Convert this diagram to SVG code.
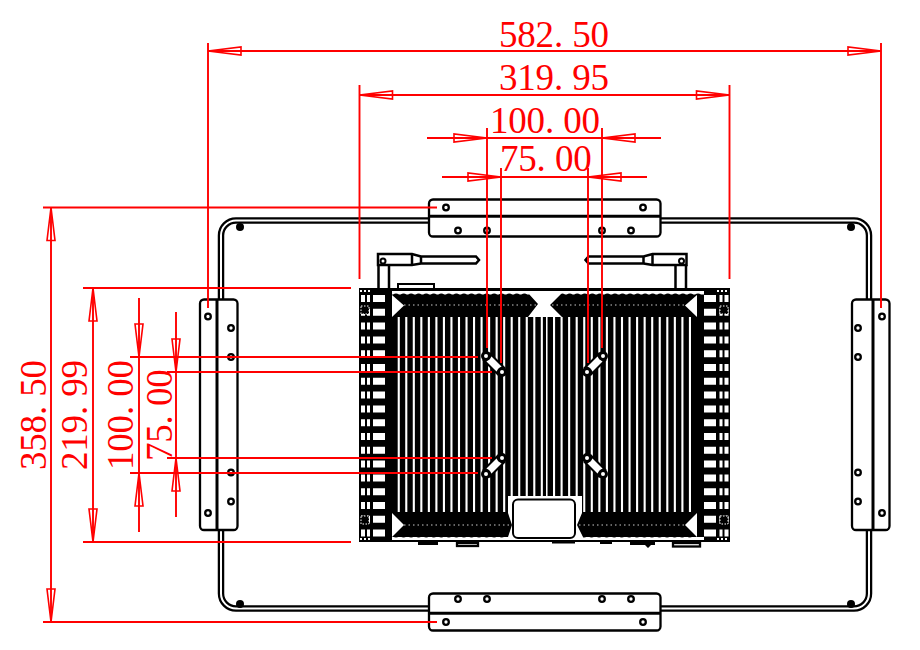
<svg xmlns="http://www.w3.org/2000/svg" width="920" height="650" viewBox="0 0 920 650">
<style>
.k{fill:#fff;stroke:#000;stroke-width:2.500}
.br{fill:#fff;stroke:#000;stroke-width:2.300}
.bl{fill:none;stroke:#000;stroke-width:3}
.h{fill:#fff;stroke:#000;stroke-width:2.300}
.r{fill:none;stroke:#f00;stroke-width:1.900}
.a{fill:none;stroke:#f00;stroke-width:1.600}
.t{fill:#f00;font-family:"Liberation Serif","Times New Roman",serif;font-size:37px}
.fin{fill:none;stroke:#fff;stroke-width:195}
.win{fill:none;stroke:#fff}
</style>
<defs>
<polygon id="ah" class="a" points="0,0 -33,-4 -33,4"/>
<g id="mount"><line x1="-8" y1="-8" x2="8" y2="8" stroke="#000" stroke-width="11"/><line x1="-5" y1="-5" x2="5" y2="5" stroke="#fff" stroke-width="7"/><circle cx="-8" cy="-8" r="3.500" fill="#fff" stroke="#000" stroke-width="3"/><circle cx="8" cy="8" r="3.500" fill="#fff" stroke="#000" stroke-width="3"/></g>
<g id="ant">
<path class="k" d="M378 264V254H412L421 256.500H476L479 260L476 263.500H421L412 265H378Z"/>
<path class="k" d="M412 254V264M421 256.500V263.500M378.500 265V288M389 265V288"/>
<circle cx="383" cy="261" r="2.500" fill="#fff" stroke="#000" stroke-width="2"/>
</g>
</defs>
<rect width="920" height="650" fill="#fff"/>

<g id="frame">
<rect x="221" y="220.500" width="648" height="388" rx="15" fill="#fff" stroke="#000" stroke-width="6.500"/>
<rect x="221" y="220.500" width="648" height="388" rx="15" fill="none" stroke="#fff" stroke-width="2"/>
<circle cx="240" cy="227" r="4"/><circle cx="851" cy="227" r="4"/><circle cx="240" cy="604" r="4"/><circle cx="851" cy="604" r="4"/>
</g>

<g id="antenna-left"><use href="#ant"/></g>
<g id="antenna-right"><use href="#ant" transform="translate(1064.500 0) scale(-1 1)"/></g>

<g id="heatsink">
<rect x="398" y="284" width="36" height="5" fill="#fff" stroke="#000" stroke-width="2"/>
<rect x="359" y="288" width="371" height="254"/>
<rect x="392" y="291" width="312" height="3.500" fill="#fff"/>
<rect x="392" y="537" width="312" height="3" fill="#fff"/>
<line x1="396" y1="297" x2="700" y2="297" stroke="#000" stroke-width="7" stroke-linecap="round" stroke-dasharray="0 7.550"/>
<line x1="396" y1="534" x2="508" y2="534" stroke="#000" stroke-width="7" stroke-linecap="round" stroke-dasharray="0 7.550"/>
<line x1="584" y1="534" x2="697" y2="534" stroke="#000" stroke-width="7" stroke-linecap="round" stroke-dasharray="0 7.550"/>
<line class="fin" x1="397.700" y1="414.500" x2="545" y2="414.500" stroke-dasharray="2.100 5.430"/>
<line class="fin" x1="691" y1="414.500" x2="546" y2="414.500" stroke-dasharray="2.100 5.450"/>
<polygon fill="#fff" points="528,293 562,293 550,305 562,317 528,317 538,304"/>
<polygon fill="#fff" points="392,295 404,305.500 392,317"/>
<polygon fill="#fff" points="697,295 685,305.500 697,317"/>
<polygon fill="#fff" points="392,513 404,525 392,537"/>
<polygon fill="#fff" points="697,513 685,525 697,537"/>
<polygon fill="#fff" points="508,496 582,496 582,513 577,525 583,537 583,540 508,540 508,537 512,525 508,513"/>
<rect x="513" y="499.500" width="62" height="38.500" rx="5" fill="#fff" stroke="#000" stroke-width="2"/>
<line x1="404" y1="305" x2="536" y2="305" stroke="#fff" stroke-width="0.800" stroke-dasharray="1.500 3"/>
<line x1="552" y1="305" x2="685" y2="305" stroke="#fff" stroke-width="0.800" stroke-dasharray="1.500 3"/>
<line x1="404" y1="525" x2="510" y2="525" stroke="#fff" stroke-width="0.800" stroke-dasharray="1.500 3"/>
<line x1="579" y1="525" x2="685" y2="525" stroke="#fff" stroke-width="0.800" stroke-dasharray="1.500 3"/>
<g class="win">
<line x1="379" y1="295" x2="379" y2="537" stroke-width="12" stroke-dasharray="7 6.800"/>
<line x1="363" y1="295" x2="363" y2="537" stroke-width="4" stroke-dasharray="7 6.800"/>
<line x1="368.500" y1="295" x2="368.500" y2="537" stroke-width="3" stroke-dasharray="7 6.800"/>
<line x1="710" y1="295" x2="710" y2="537" stroke-width="12" stroke-dasharray="7 6.800"/>
<line x1="726.500" y1="295" x2="726.500" y2="537" stroke-width="4" stroke-dasharray="7 6.800"/>
<line x1="721" y1="295" x2="721" y2="537" stroke-width="3" stroke-dasharray="7 6.800"/>
<line x1="360" y1="291" x2="372" y2="291" stroke-width="2" stroke-dasharray="2 2"/>
<line x1="717" y1="291" x2="729" y2="291" stroke-width="2" stroke-dasharray="2 2"/>
<line x1="360" y1="539" x2="372" y2="539" stroke-width="2" stroke-dasharray="2 2"/>
<line x1="717" y1="539" x2="729" y2="539" stroke-width="2" stroke-dasharray="2 2"/>
</g>
<rect x="361" y="306" width="8" height="8" stroke="#fff" stroke-dasharray="1.500 1.500"/>
<rect x="720" y="306" width="8" height="8" stroke="#fff" stroke-dasharray="1.500 1.500"/>
<rect x="361" y="516" width="8" height="8" stroke="#fff" stroke-dasharray="1.500 1.500"/>
<rect x="720" y="516" width="8" height="8" stroke="#fff" stroke-dasharray="1.500 1.500"/>
<use href="#mount" transform="translate(494 364)"/>
<use href="#mount" transform="translate(595 364) rotate(90)"/>
<use href="#mount" transform="translate(494 466) rotate(90)"/>
<use href="#mount" transform="translate(595 466)"/>
<rect x="418" y="542" width="20" height="3"/>
<rect x="457" y="543" width="21" height="3" class="br"/>
<rect x="552" y="542" width="23" height="1.500"/>
<rect x="600" y="542" width="12" height="2"/>
<path d="M630 542H655V545H651L648 548L645 545H630Z"/>
<rect x="673" y="543" width="27" height="3.500" class="br"/>
</g>

<g id="bracket-top">
<rect class="br" x="429" y="199.500" width="231.500" height="37" rx="4"/>
<line class="bl" x1="429" y1="216.300" x2="660.500" y2="216.300"/>
<circle class="h" cx="446" cy="207.500" r="2.800"/><circle class="h" cx="643" cy="207.500" r="2.800"/>
<circle class="h" cx="458" cy="230.500" r="2.800"/><circle class="h" cx="487" cy="230.500" r="2.800"/><circle class="h" cx="602" cy="230.500" r="2.800"/><circle class="h" cx="631" cy="230.500" r="2.800"/>
</g>
<g id="bracket-bottom">
<rect class="br" x="429" y="593.500" width="231.500" height="37" rx="4"/>
<line class="bl" x1="429" y1="613.300" x2="660.500" y2="613.300"/>
<circle class="h" cx="458" cy="599" r="2.800"/><circle class="h" cx="487" cy="599" r="2.800"/><circle class="h" cx="602" cy="599" r="2.800"/><circle class="h" cx="631" cy="599" r="2.800"/>
<circle class="h" cx="446" cy="622" r="2.800"/><circle class="h" cx="643" cy="622" r="2.800"/>
</g>
<g id="bracket-left">
<rect class="br" x="200" y="299.500" width="37.500" height="230.500" rx="4"/>
<line class="bl" x1="217" y1="299.500" x2="217" y2="530"/>
<circle class="h" cx="208" cy="316.500" r="2.800"/><circle class="h" cx="208" cy="513" r="2.800"/>
<circle class="h" cx="231" cy="328" r="2.800"/><circle class="h" cx="231" cy="357" r="2.800"/><circle class="h" cx="231" cy="472.500" r="2.800"/><circle class="h" cx="231" cy="501.500" r="2.800"/>
</g>
<g id="bracket-right">
<rect class="br" x="852" y="299.500" width="37.500" height="230.500" rx="4"/>
<line class="bl" x1="873" y1="299.500" x2="873" y2="530"/>
<circle class="h" cx="882" cy="316.500" r="2.800"/><circle class="h" cx="882" cy="513" r="2.800"/>
<circle class="h" cx="858" cy="328" r="2.800"/><circle class="h" cx="858" cy="357" r="2.800"/><circle class="h" cx="858" cy="472.500" r="2.800"/><circle class="h" cx="858" cy="501.500" r="2.800"/>
</g>

<g id="connectors">
<path class="r" d="M208 43V308M881 43V308M208 51H881"/>
<path class="r" d="M359.500 85V279M729.500 85V279M359.500 95H729.500"/>
<path class="r" d="M427 138H661M487 128V348M602 128V348"/>
<path class="r" d="M442 177H647M501 168V363M588 168V363"/>
<path class="r" d="M43 207.500H437M43 622H437M51 207.500V622"/>
<path class="r" d="M83 288H351M83 542H351M93 288V542"/>
<path class="r" d="M130 357H478M130 473H478M139 298V532"/>
<path class="r" d="M167 372H492M167 458H492M176 312V517"/>
<use href="#ah" transform="translate(208 51) rotate(180)"/>
<use href="#ah" transform="translate(881 51)"/>
<use href="#ah" transform="translate(359.500 95) rotate(180)"/>
<use href="#ah" transform="translate(729.500 95)"/>
<use href="#ah" transform="translate(487 138)"/>
<use href="#ah" transform="translate(602 138) rotate(180)"/>
<use href="#ah" transform="translate(501 177)"/>
<use href="#ah" transform="translate(588 177) rotate(180)"/>
<use href="#ah" transform="translate(51 207.500) rotate(-90)"/>
<use href="#ah" transform="translate(51 622) rotate(90)"/>
<use href="#ah" transform="translate(93 288) rotate(-90)"/>
<use href="#ah" transform="translate(93 542) rotate(90)"/>
<use href="#ah" transform="translate(139 357) rotate(90)"/>
<use href="#ah" transform="translate(139 473) rotate(-90)"/>
<use href="#ah" transform="translate(176 372) rotate(90)"/>
<use href="#ah" transform="translate(176 458) rotate(-90)"/>
</g>

<g id="labels">
<text class="t" x="499 517.300 535.600 553.900 572.200 590.500" y="47">582.50</text>
<text class="t" x="499 517.300 535.600 553.900 572.200 590.500" y="90">319.95</text>
<text class="t" x="490 508.300 526.600 544.900 563.200 581.500" y="133">100.00</text>
<text class="t" x="500 518.300 536.600 554.900 573.200" y="171">75.00</text>
<text class="t" transform="translate(46 470) rotate(-90)" x="0 18.300 36.600 54.900 73.200 91.500" y="0">358.50</text>
<text class="t" transform="translate(87 470) rotate(-90)" x="0 18.300 36.600 54.900 73.200 91.500" y="0">219.99</text>
<text class="t" transform="translate(133 470) rotate(-90)" x="0 18.300 36.600 54.900 73.200 91.500" y="0">100.00</text>
<text class="t" transform="translate(172 461) rotate(-90)" x="0 18.300 36.600 54.900 73.200" y="0">75.00</text>
</g>
</svg>
